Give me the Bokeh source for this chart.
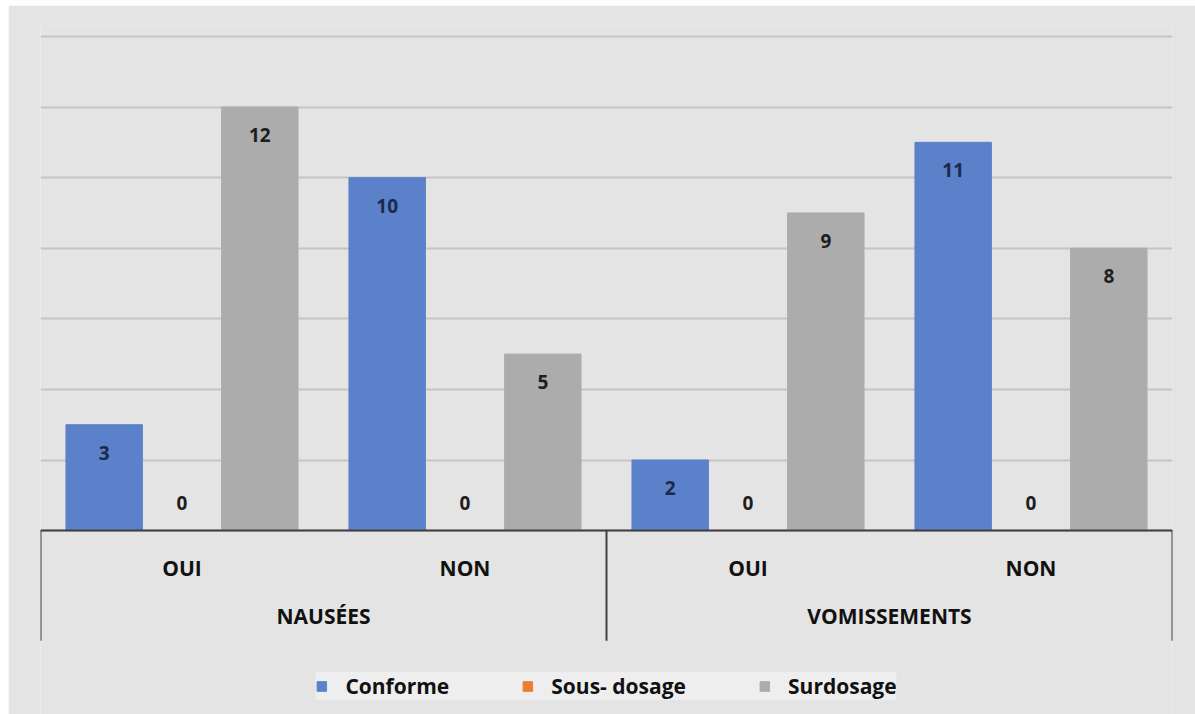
from bokeh.plotting import figure
from bokeh.models import (FactorRange, ColumnDataSource, CategoricalAxis, Range1d,
                          FixedTicker, Legend, LegendItem, Grid)
from bokeh.transform import dodge
from bokeh.core.properties import value
from bokeh.embed import file_html
from bokeh.resources import INLINE

# ---- data ----
groups = ["NAUSÉES", "VOMISSEMENTS"]
answers = ["OUI", "NON"]
series_names = ["Conforme", "Sous- dosage", "Surdosage"]
conforme = [3, 10, 2, 11]
sous_dosage = [0, 0, 0, 0]
surdosage = [12, 5, 9, 8]
y_ticks = [0, 2, 4, 6, 8, 10, 12, 14]

colors = ["#5a81c9", "#ed7d31", "#acacac"]
label_colors = ["#1b2a4a", "#1e1e1e", "#1e1e1e"]
FONT = "Open Sans"
BG = "#e4e4e4"

factors = [(g, a) for g in groups for a in answers]
series = [conforme, sous_dosage, surdosage]
keys = ["conforme", "sous", "sur"]

data = dict(x=factors)
for k, s in zip(keys, series):
    data[k] = s
    data[k + "_lbl"] = [str(v) for v in s]
    data[k + "_off"] = [28 if v > 0 else -28 for v in s]
source = ColumnDataSource(data)

y_start, y_end = -5.21, 14.31
table_bottom = -3.12   # depth of the category table below the axis

p = figure(x_range=FactorRange(*factors, group_padding=0, range_padding=0, factor_padding=0),
           y_range=Range1d(y_start, y_end),
           frame_width=1132, frame_height=689,
           x_axis_location=None, y_axis_location=None,
           output_backend="svg", toolbar_location=None,
           min_border_left=32, min_border_right=23, min_border_top=20, min_border_bottom=0,
           background_fill_color=BG, border_fill_color=BG, outline_line_color=None)
p.margin = (5, 0, 0, 8)
p.center = []

grid = Grid(dimension=1, ticker=FixedTicker(ticks=y_ticks),
            grid_line_color="#c4c4c4", grid_line_width=2)
p.add_layout(grid)

offsets = [-0.275, 0.0, 0.275]
bar_w = 0.27
renderers = []
for k, c, lc, off in zip(keys, colors, label_colors, offsets):
    r = p.vbar(x=dodge("x", off, range=p.x_range), top=k, bottom=0, width=bar_w,
               source=source, fill_color=c, line_color=c)
    renderers.append(r)
    p.text(x=dodge("x", off, range=p.x_range), y=k, text=k + "_lbl", y_offset=k + "_off",
           source=source, text_align="center", text_baseline="middle",
           text_font=value(FONT), text_font_style="bold", text_font_size="19px",
           text_color=lc)

# separators of the category table below the axis
bounds = [i * len(answers) for i in range(len(groups) + 1)]
p.segment(x0=bounds, y0=[0] * len(bounds), x1=bounds, y1=[table_bottom] * len(bounds),
          line_color="#404040", line_width=2)

ax = CategoricalAxis(fixed_location=0, axis_line_color="#404040", axis_line_width=2,
                     major_tick_line_color=None, minor_tick_line_color=None,
                     major_label_text_font=FONT, major_label_text_font_style="bold",
                     major_label_text_font_size="21px", major_label_text_color="#111111",
                     group_text_font=FONT, group_text_font_style="bold",
                     group_text_font_size="21px", group_text_color="#111111",
                     separator_line_color=None, major_label_standoff=17)
p.add_layout(ax, "below")

legend = Legend(items=[LegendItem(label=n, renderers=[r]) for n, r in zip(series_names, renderers)],
                orientation="horizontal", location="bottom_center",
                background_fill_color="#eeeeee", border_line_color=None,
                glyph_width=12, glyph_height=12, label_standoff=18, spacing=72,
                label_text_font=FONT, label_text_font_style="bold",
                label_text_font_size="21px", label_text_color="#111111",
                padding=9, margin=14)
p.add_layout(legend, "center")

open("out.html", "w").write(file_html(p, INLINE))
